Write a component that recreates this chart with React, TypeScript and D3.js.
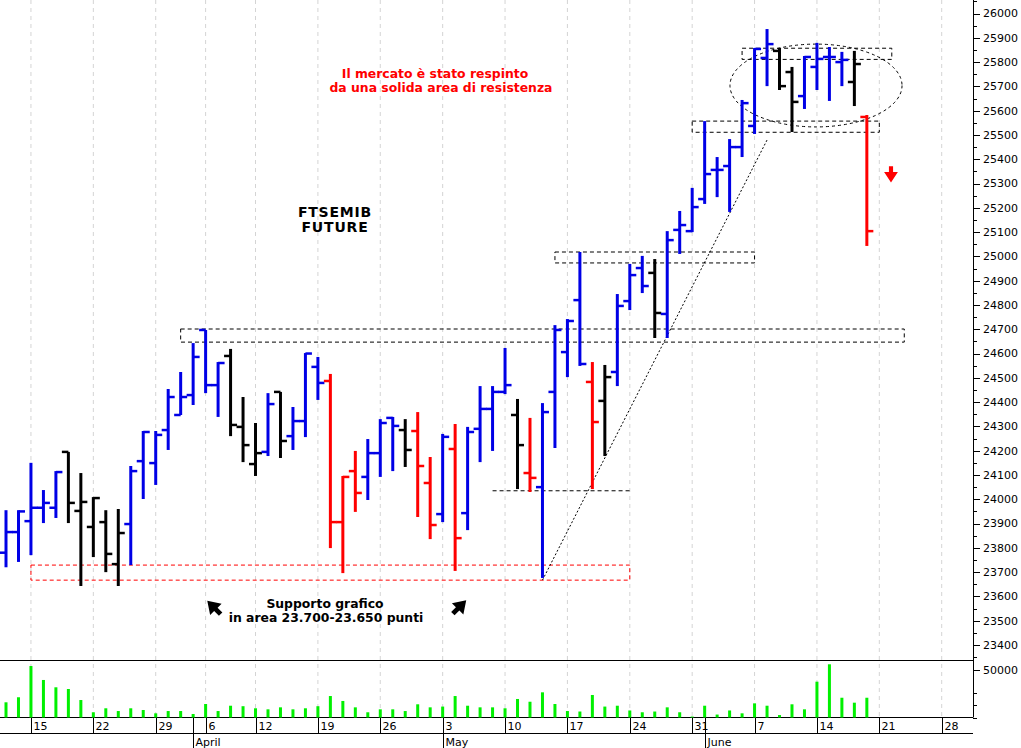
import * as d3 from "d3";

// FTSEMIB future, daily OHLC bars + volume, 11 Mar - 18 Jun 2021
const opens = [
  23780, 23865, 23910, 23965, 23965, 24195, 23952, 23886, 23906, 23733,
  23898, 24157, 24149, 24285, 24347, 24429, 24697, 24470, 24590, 24298,
  24145, 24195, 24442, 24260, 24322, 24545, 24487, 23906, 24116, 24092,
  24190, 24335, 24285, 24281, 24067, 23939, 24207, 23943, 24290, 24372,
  24442, 24347, 24108, 24050, 24442, 24606, 24820, 24483, 24405, 24524,
  24816, 24952, 24932, 24763, 25109, 25104, 25236, 25356, 25372, 25450,
  25537, 25817, 25846, 25759, 25660, 25780, 25821, 25800, 25718, 25574,
];
const highs = [
  23955, 23955, 24150, 24038, 24116, 24195, 24108, 24009, 23955, 23960,
  24137, 24281, 24281, 24454, 24524, 24643, 24697, 24565, 24619, 24421,
  24314, 24437, 24442, 24380, 24602, 24586, 24516, 24096, 24199, 24248,
  24330, 24339, 24330, 24359, 24174, 24269, 24310, 24298, 24466, 24466,
  24623, 24413, 24335, 24396, 24717, 24742, 25018, 24565, 24553, 24845,
  24969, 25002, 24989, 25104, 25187, 25282, 25557, 25409, 25483, 25644,
  25858, 25936, 25858, 25780, 25825, 25879, 25862, 25842, 25846, 25582,
];
const lows = [
  23720, 23742, 23770, 23902, 23923, 23902, 23643, 23762, 23700, 23643,
  23729, 24001, 24059, 24203, 24347, 24388, 24437, 24339, 24260, 24153,
  24096, 24178, 24170, 24203, 24256, 24409, 23799, 23696, 23948, 23997,
  24092, 24116, 24133, 23927, 23836, 23906, 23705, 23873, 24153, 24199,
  24433, 24042, 24030, 23676, 24211, 24503, 24549, 24042, 24178, 24466,
  24779, 24849, 24664, 24664, 25010, 25100, 25216, 25244, 25183, 25409,
  25504, 25701, 25685, 25512, 25607, 25685, 25640, 25701, 25619, 25043,
];
const closes = [
  23865, 23950, 23965, 23985, 24112, 23985, 23989, 24005, 23775, 23861,
  24116, 24277, 24265, 24421, 24421, 24586, 24470, 24561, 24306, 24223,
  24190, 24392, 24240, 24322, 24600, 24479, 23906, 24092, 24026, 24190,
  24314, 24302, 24203, 24137, 23894, 24257, 23840, 24277, 24372, 24442,
  24470, 24223, 24088, 24359, 24697, 24734, 24557, 24318, 24503, 24796,
  24923, 24878, 24767, 25067, 25129, 25203, 25339, 25356, 25450, 25631,
  25854, 25874, 25701, 25636, 25821, 25813, 25821, 25809, 25792, 25104,
];
// b = blue, k = black, r = red
const barColors = (
  "bbbbbkkkkkbbbbbbbbkkkbkbbbrrrbbbkrrbrbbbbkrbbbbrkbbbkbbbbbbbbbkkbbbbkr"
).split("");
const volumes = [
  16000, 21300, 54200, 39500, 31800, 30000, 18400, 5500, 9700, 6800,
  9700, 7900, 4400, 6800, 6800, 3700, 14200, 6800, 12400, 11900,
  9700, 8600, 10700, 8600, 9700, 11900, 22600, 17400, 10700, 5500,
  8600, 8600, 6800, 13900, 10700, 11500, 22600, 12400, 10700, 10700,
  9700, 19500, 16600, 26500, 14200, 6800, 6300, 23700, 11500, 12400,
  7400, 5500, 6300, 10700, 5500, 1000, 12400, 3100, 7400, 4400,
  14900, 12400, 2600, 13900, 8600, 37700, 56000, 20800, 15600, 20800,
];

const holidays = ["2021-04-02", "2021-04-05"];
const weekTicks = [
  "2021-03-15", "2021-03-22", "2021-03-29", "2021-04-06", "2021-04-12", "2021-04-19",
  "2021-04-26", "2021-05-03", "2021-05-10", "2021-05-17", "2021-05-24", "2021-05-31",
  "2021-06-07", "2021-06-14", "2021-06-21", "2021-06-28",
];
const monthTicks = ["2021-04-01", "2021-05-03", "2021-06-01"];
const monthLabels = ["April", "May", "June"];
const volMinorTicks = [0, 13500, 26000, 64000];

// drawn levels (dashed boxes)
const zoneFrom = ["2021-03-15", "2021-03-31", "2021-05-14", "2021-05-31", "2021-06-04"];
const zoneTo = ["2021-05-24", "2021-06-23", "2021-06-07", "2021-06-21", "2021-06-22"];
const zoneLow = [23667, 24647, 24973, 25511, 25811];
const zoneHigh = [23729, 24701, 25018, 25557, 25857];
const zoneKind = ["support", "level", "level", "level", "level"];

const fmt = d3.timeFormat("%Y-%m-%d");
const days = d3.timeDay
  .range(new Date(2021, 2, 11), new Date(2021, 6, 1))
  .filter((d) => d.getDay() !== 0 && d.getDay() !== 6 && !holidays.includes(fmt(d)));
const idx = (s: string) => days.findIndex((d) => fmt(d) === s);

const W = 1021;
const H = 748;
const axisX = 973;

const colorOf: Record<string, string> = { b: "#0000e6", k: "#000000", r: "#ff0000" };

// fat arrow pointing up, centred on 0,0
const arrowUp = "M-1.8,8 v-5 h-4.2 l6,-9 l6,9 h-4.2 v5 z";

export default function App() {
  const x = d3.scaleLinear([0, 75], [6, 941.7]);
  const y = d3.scaleLinear([23400, 26000], [645, 13.5]);
  const yv = d3.scaleLinear([0, 50000], [717.5, 670]);

  const majors = d3.range(23400, 26001, 100);
  const minors = d3.range(23350, 26051, 100);
  const font = "'DejaVu Sans', Verdana, sans-serif";

  const support = [idx("2021-05-07"), idx("2021-05-24"), 24035];
  const trend = [
    [43, 23667],
    [61, 25479],
  ];
  const ell = { x0: 58.03, x1: 71.82, p0: 25533, p1: 25874 };

  return (
    <svg
      width={W}
      height={H}
      style={{ position: "absolute", left: 0, top: 0, background: "#fff" }}
      fontFamily={font}
    >
      <rect width={W} height={H} fill="#fff" />

      {/* weekly grid */}
      {weekTicks.map((t) => (
        <line
          key={"g" + t}
          x1={x(idx(t))}
          x2={x(idx(t))}
          y1={0}
          y2={717}
          stroke="#d4d4d4"
          strokeDasharray="4,4"
        />
      ))}

      {/* panel frames */}
      <line x1={0} x2={axisX} y1={660.5} y2={660.5} stroke="#000" />
      <line x1={0} x2={axisX} y1={717.5} y2={717.5} stroke="#000" />
      <line x1={0} x2={axisX} y1={733.5} y2={733.5} stroke="#000" />
      <line x1={axisX + 0.5} x2={axisX + 0.5} y1={0} y2={717.5} stroke="#000" />

      {/* price axis */}
      {minors.map((v) => (
        <line key={"m" + v} x1={axisX} x2={axisX + 4} y1={Math.round(y(v)) + 0.5} y2={Math.round(y(v)) + 0.5} stroke="#000" />
      ))}
      {majors.map((v) => (
        <g key={"M" + v}>
          <line x1={axisX} x2={axisX + 7} y1={Math.round(y(v)) + 0.5} y2={Math.round(y(v)) + 0.5} stroke="#000" />
          <text x={983} y={y(v)} dy="0.35em" fontSize={11} fill="#000">
            {v}
          </text>
        </g>
      ))}

      {/* volume axis */}
      {volMinorTicks.map((v) => (
        <line key={"vm" + v} x1={axisX} x2={axisX + 4} y1={Math.round(yv(v)) + 0.5} y2={Math.round(yv(v)) + 0.5} stroke="#000" />
      ))}
      <line x1={axisX} x2={axisX + 7} y1={Math.round(yv(50000)) + 0.5} y2={Math.round(yv(50000)) + 0.5} stroke="#000" />
      <text x={983} y={yv(50000)} dy="0.35em" fontSize={11}>
        50000
      </text>

      {/* date axis */}
      {weekTicks.map((t) => {
        const xx = Math.round(x(idx(t))) + 0.5;
        return (
          <g key={"w" + t}>
            <line x1={xx} x2={xx} y1={717.5} y2={733.5} stroke="#000" />
            <text x={xx + 2} y={730} fontSize={11}>
              {d3.timeFormat("%-d")(days[idx(t)])}
            </text>
          </g>
        );
      })}
      {monthTicks.map((t, i) => {
        const xx = Math.round(x(idx(t))) + 0.5;
        return (
          <g key={"mo" + t}>
            <line x1={xx} x2={xx} y1={717.5} y2={748} stroke="#000" />
            <text x={xx + 2} y={746} fontSize={11}>
              {monthLabels[i]}
            </text>
          </g>
        );
      })}

      {/* dashed levels */}
      {zoneFrom.map((f, i) => (
        <rect
          key={"z" + i}
          x={x(idx(f))}
          y={y(zoneHigh[i])}
          width={x(idx(zoneTo[i])) - x(idx(f))}
          height={y(zoneLow[i]) - y(zoneHigh[i])}
          fill="none"
          stroke={zoneKind[i] === "support" ? "#ff0000" : "#000"}
          strokeDasharray="4,3"
        />
      ))}
      <line
        x1={x(support[0])}
        x2={x(support[1])}
        y1={y(support[2])}
        y2={y(support[2])}
        stroke="#000"
        strokeDasharray="4,3"
      />
      <line
        x1={x(trend[0][0])}
        y1={y(trend[0][1])}
        x2={x(trend[1][0])}
        y2={y(trend[1][1])}
        stroke="#000"
        strokeDasharray="2,2"
      />
      <ellipse
        cx={(x(ell.x0) + x(ell.x1)) / 2}
        cy={(y(ell.p0) + y(ell.p1)) / 2}
        rx={(x(ell.x1) - x(ell.x0)) / 2}
        ry={(y(ell.p0) - y(ell.p1)) / 2}
        fill="none"
        stroke="#000"
        strokeDasharray="3,3"
      />

      {/* volume */}
      {volumes.map((v, i) => (
        <rect key={"v" + i} x={x(i) - 1.5} y={yv(v)} width={3} height={yv(0) - yv(v)} fill="#00f000" />
      ))}

      {/* OHLC bars */}
      {opens.map((o, i) => {
        const cx = x(i);
        const c = colorOf[barColors[i]];
        return (
          <g key={"b" + i} stroke={c}>
            <line x1={cx} x2={cx} y1={y(highs[i])} y2={y(lows[i])} strokeWidth={3} />
            <line x1={cx - 6.5} x2={cx} y1={y(o)} y2={y(o)} strokeWidth={2.5} />
            <line x1={cx} x2={cx + 6.5} y1={y(closes[i])} y2={y(closes[i])} strokeWidth={2.5} />
          </g>
        );
      })}

      {/* arrows */}
      <g transform="translate(891,175.5) rotate(180) scale(1.15)">
        <path d={arrowUp} fill="#ff0000" />
      </g>
      <g transform="translate(213,606.5) rotate(-45) scale(1.35)">
        <path d={arrowUp} fill="#000" />
      </g>
      <g transform="translate(460.5,606) rotate(45) scale(1.35)">
        <path d={arrowUp} fill="#000" />
      </g>

      {/* notes */}
      <g fontWeight="bold" fontSize={12.4} textAnchor="middle">
        <text x={435} y={78} fill="#ff0000">
          Il mercato è stato respinto
        </text>
        <text x={441} y={92} fill="#ff0000">
          da una solida area di resistenza
        </text>
        <text x={325} y={608} fill="#000">
          Supporto grafico
        </text>
        <text x={326} y={622} fill="#000">
          in area 23.700-23.650 punti
        </text>
      </g>
      <g fontWeight="bold" fontSize={14} textAnchor="middle" letterSpacing={0.8}>
        <text x={335} y={217}>
          FTSEMIB
        </text>
        <text x={335} y={232}>
          FUTURE
        </text>
      </g>
    </svg>
  );
}
